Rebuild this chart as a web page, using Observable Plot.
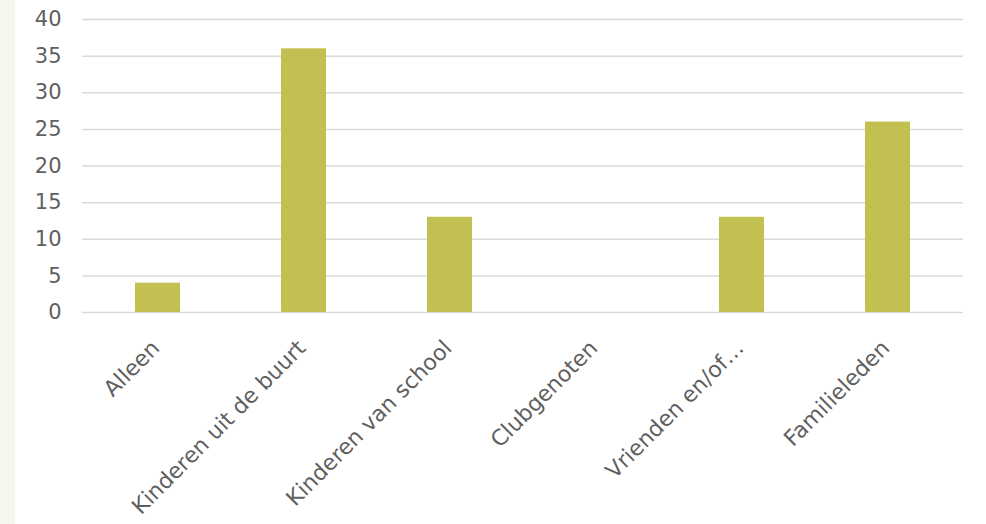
<!DOCTYPE html>
<html>
<head>
<meta charset="utf-8">
<script src="https://cdn.jsdelivr.net/npm/d3@7"></script>
<script src="https://cdn.jsdelivr.net/npm/@observablehq/plot@0.6"></script>
<style>
  html, body { margin: 0; padding: 0; }
  body { width: 986px; height: 524px; background: linear-gradient(to right, #f7f6ee 0px, #f7f6ee 15px, #ffffff 15px); overflow: hidden; }
  #chart svg { display: block; }
</style>
</head>
<body>
<div id="chart"></div>
<script>
const categories = ["Alleen", "Kinderen uit de buurt", "Kinderen van school", "Clubgenoten", "Vrienden en/of…", "Familieleden"];
const values = [4, 36, 13, 0, 13, 26];
const yTicks = [0, 5, 10, 15, 20, 25, 30, 35, 40];

const data = categories.map((c, i) => ({category: c, value: values[i]}));

const chart = Plot.plot({
  width: 986,
  height: 524,
  marginLeft: 82,
  marginRight: 23,
  marginTop: 19,
  marginBottom: 212,
  style: {background: "transparent", fontFamily: "'DejaVu Sans', sans-serif", color: "#595959"},
  x: {domain: categories, paddingInner: 0.69, paddingOuter: 0.345, label: null},
  y: {domain: [0, 40], ticks: yTicks, label: null},
  marks: [
    Plot.gridY(yTicks, {stroke: "#d9d9d9", strokeOpacity: 1, strokeWidth: 1.5}),
    Plot.barY(data, {x: "category", y: "value", fill: "#c3c052"}),
    Plot.axisY(yTicks, {tickSize: 0, tickPadding: 21, fontSize: 21, fill: "#5f5f5f", label: null}),
    Plot.axisX({tickSize: 0, tickPadding: 32, dx: -2, tickRotate: -45, fontSize: 22, fill: "#5f5f5f", label: null})
  ]
});
document.getElementById("chart").appendChild(chart);
</script>
</body>
</html>
